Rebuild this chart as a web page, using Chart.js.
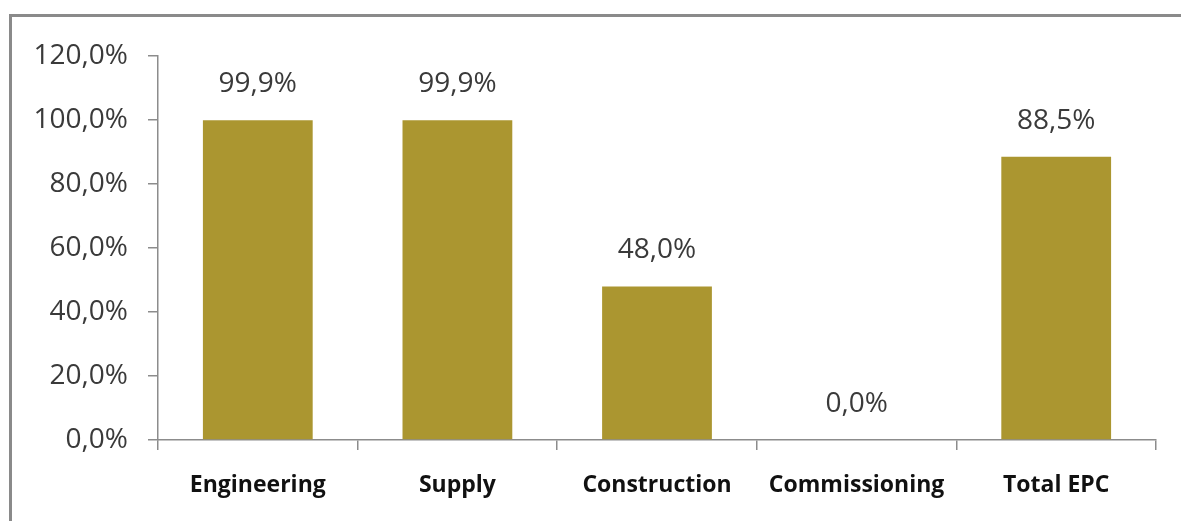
<!DOCTYPE html>
<html>
<head>
<meta charset="utf-8">
<script src="https://cdn.jsdelivr.net/npm/chart.js@4.4.0/dist/chart.umd.min.js"></script>
<style>
  html, body { margin: 0; padding: 0; background: #fff; }
  .wrap { position: relative; width: 1181px; height: 521px; overflow: hidden; }
  .frame { position: absolute; left: 9px; top: 14px; width: 1200px; height: 600px; border: 3px solid #8a8a8a; box-sizing: border-box; }
  canvas { position: absolute; left: 0; top: 0; }
</style>
</head>
<body>
<div class="wrap">
  <div class="frame"></div>
  <canvas id="progressChart" width="1181" height="521"></canvas>
</div>
<script>
const categories = ['Engineering', 'Supply', 'Construction', 'Commissioning', 'Total EPC'];
const progress = [99.9, 99.9, 48.0, 0.0, 88.5];
const yTicks = [0, 20, 40, 60, 80, 100, 120];

const fmt = (v) => v.toFixed(1).replace('.', ',') + '%';

// value labels above the bars
const barLabels = {
  id: 'barLabels',
  afterDatasetsDraw(chart) {
    const ctx = chart.ctx;
    const meta = chart.getDatasetMeta(0);
    ctx.save();
    ctx.font = '28px "Open Sans"';
    ctx.fillStyle = '#3a3a3a';
    ctx.textAlign = 'center';
    ctx.textBaseline = 'alphabetic';
    meta.data.forEach((bar, i) => {
      ctx.fillText(fmt(progress[i]), bar.x, bar.y - 28);
    });
    ctx.restore();
  }
};

new Chart(document.getElementById('progressChart'), {
  type: 'bar',
  data: {
    labels: categories,
    datasets: [{
      data: progress,
      backgroundColor: '#ab9630',
      borderWidth: 0,
      barPercentage: 0.55,
      categoryPercentage: 1
    }]
  },
  options: {
    responsive: false,
    animation: false,
    events: [],
    layout: { padding: { left: 0, right: 25, top: 56, bottom: 0 } },
    plugins: { legend: { display: false }, tooltip: { enabled: false } },
    scales: {
      x: {
        grid: { drawOnChartArea: false, drawTicks: true, tickLength: 10, color: '#8c8c8c', lineWidth: 1.5 },
        border: { display: true, color: '#8c8c8c', width: 1.5 },
        ticks: { color: '#111', font: { family: 'Open Sans', size: 23, weight: 'bold' }, padding: 22, maxRotation: 0 },
        afterFit(scale) { scale.height = 81; }
      },
      y: {
        min: 0,
        max: 120,
        afterBuildTicks(scale) { scale.ticks = yTicks.map((v) => ({ value: v })); },
        grid: { drawOnChartArea: false, drawTicks: true, tickLength: 10, color: '#8c8c8c', lineWidth: 1.5 },
        border: { display: true, color: '#8c8c8c', width: 1.5 },
        ticks: {
          color: '#3a3a3a',
          font: { family: 'Open Sans', size: 28 },
          padding: 20,
          callback: (v) => fmt(v)
        },
        afterFit(scale) { scale.width = 158; }
      }
    }
  },
  plugins: [barLabels]
});
</script>
</body>
</html>
